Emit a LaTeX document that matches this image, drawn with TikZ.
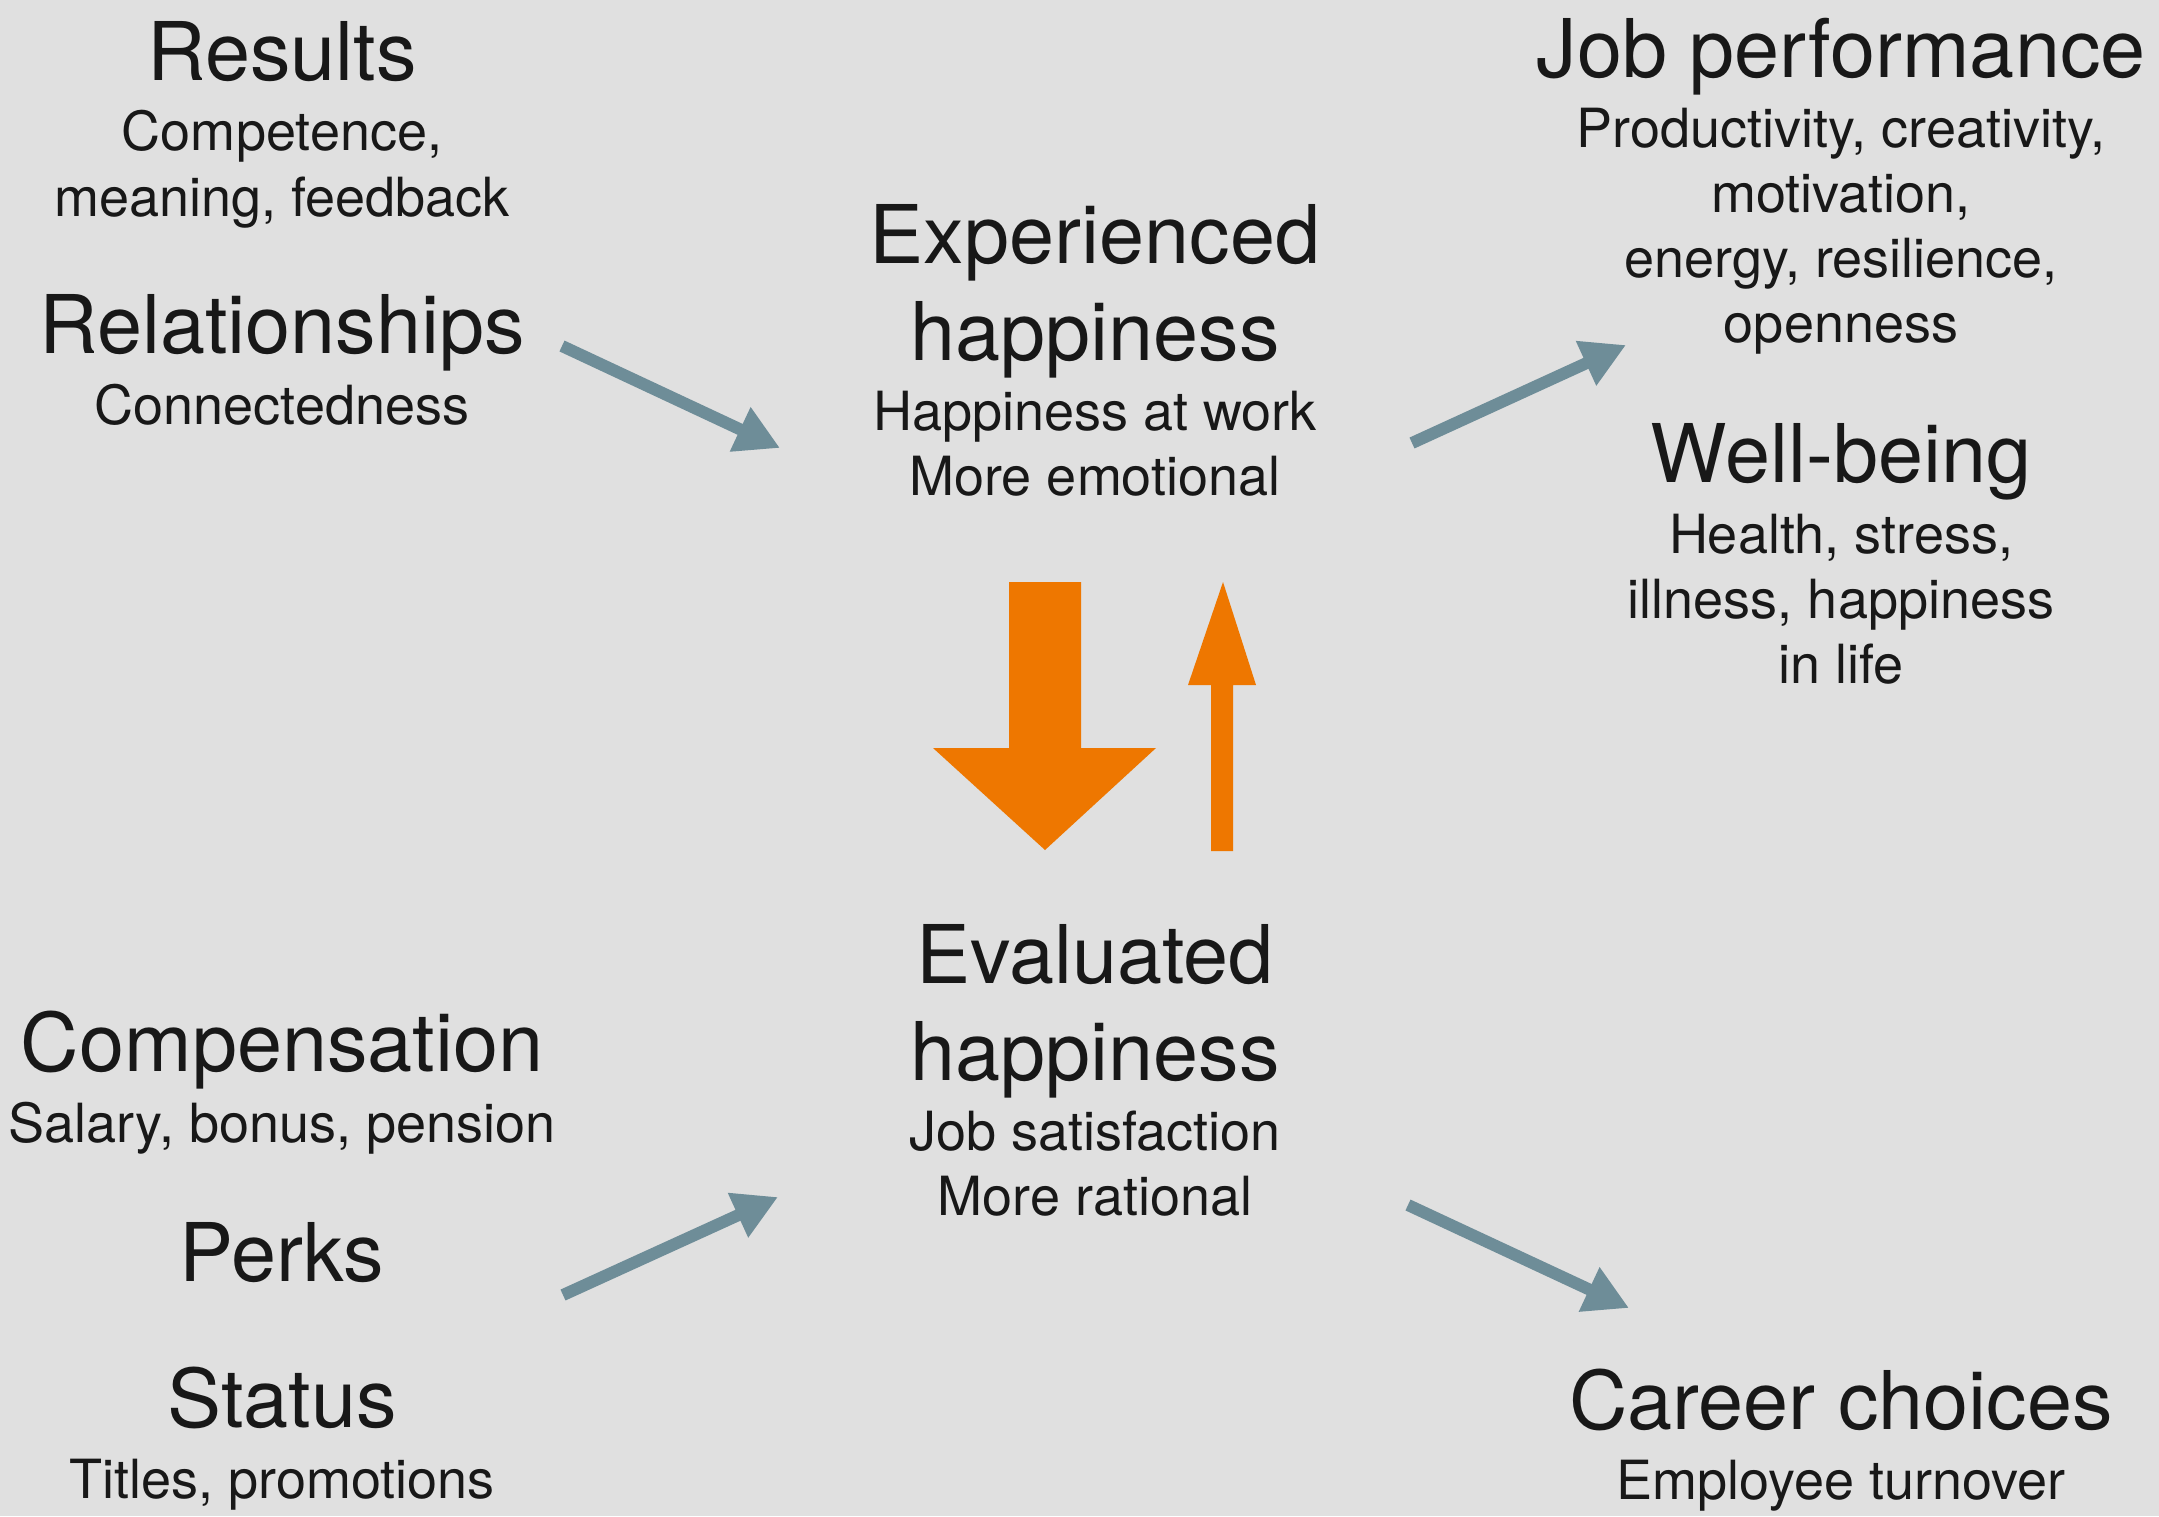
\documentclass[tikz,border=0pt]{standalone}
\usepackage{fontspec}
\setmainfont{TeX Gyre Heros}
\usetikzlibrary{arrows.meta}
\definecolor{bgc}{RGB}{224,224,224}
\definecolor{orng}{RGB}{238,119,0}
\definecolor{slate}{RGB}{110,141,152}
\definecolor{ink}{RGB}{24,24,24}
\tikzset{
  head/.style={anchor=base,inner sep=0pt,text=ink,font=\fontsize{81}{97}\selectfont},
  sub/.style={anchor=base,inner sep=0pt,text=ink,font=\fontsize{54}{65}\selectfont},
  link/.style={draw=slate,line width=12pt,-{Triangle[length=44pt,width=46pt]}},
  bigarrow/.style={fill=orng,draw=none}
}
\begin{document}
\begin{tikzpicture}[x=1pt,y=-1pt]
\fill[bgc] (0,0) rectangle (2159,1516);
\useasboundingbox (0,0) rectangle (2159,1516);
% left column
\node[head] (results) at (282,80) {Results};
\node[sub] (results1) at (282,150) {Competence,};
\node[sub] (results2) at (282,216) {meaning, feedback};
\node[head] (relat) at (282,353) {Relationships};
\node[sub] (relat1) at (282,424) {Connectedness};
\node[head] (comp) at (282,1071) {Compensation};
\node[sub] (comp1) at (282,1142) {Salary, bonus, pension};
\node[head] (perks) at (282,1281) {Perks};
\node[head] (status) at (282,1427) {Status};
\node[sub] (status1) at (282,1498) {Titles, promotions};
% centre column
\node[head] (exp1) at (1095,263) {Experienced};
\node[head] (exp2) at (1095,360) {happiness};
\node[sub] (exp3) at (1095,430) {Happiness at work};
\node[sub] (exp4) at (1095,495) {More emotional};
\node[head] (eva1) at (1095,983) {Evaluated};
\node[head] (eva2) at (1095,1080) {happiness};
\node[sub] (eva3) at (1095,1150) {Job satisfaction};
\node[sub] (eva4) at (1095,1215) {More rational};
% right column
\node[head] (job) at (1841,77) {Job performance};
\node[sub] (job1) at (1841,147) {Productivity, creativity,};
\node[sub] (job2) at (1841,212) {motivation,};
\node[sub] (job3) at (1841,277) {energy, resilience,};
\node[sub] (job4) at (1841,342) {openness};
\node[head] (well) at (1841,482) {Well-being};
\node[sub] (well1) at (1841,553) {Health, stress,};
\node[sub] (well2) at (1841,618) {illness, happiness};
\node[sub] (well3) at (1841,683) {in life};
\node[head] (career) at (1841,1429) {Career choices};
\node[sub] (career1) at (1841,1499) {Employee turnover};
% connector ends
\coordinate (a1s) at (562,346);
\coordinate (a1e) at (780,448);
\coordinate (a2s) at (1412,443);
\coordinate (a2e) at (1626,345);
\coordinate (a3s) at (563,1295);
\coordinate (a3e) at (778,1197);
\coordinate (a4s) at (1408,1205);
\coordinate (a4e) at (1629,1308);
\draw[link] (a1s) -- (a1e);
\draw[link] (a2s) -- (a2e);
\draw[link] (a3s) -- (a3e);
\draw[link] (a4s) -- (a4e);
% orange arrows
\fill[bigarrow] (1009,582) -- (1081,582) -- (1081,748) -- (1156,748) -- (1045,850) -- (933,748) -- (1009,748) -- cycle;
\fill[bigarrow] (1211,851) -- (1233,851) -- (1233,685) -- (1256,685) -- (1223,582) -- (1188,685) -- (1211,685) -- cycle;
\end{tikzpicture}
\end{document}
